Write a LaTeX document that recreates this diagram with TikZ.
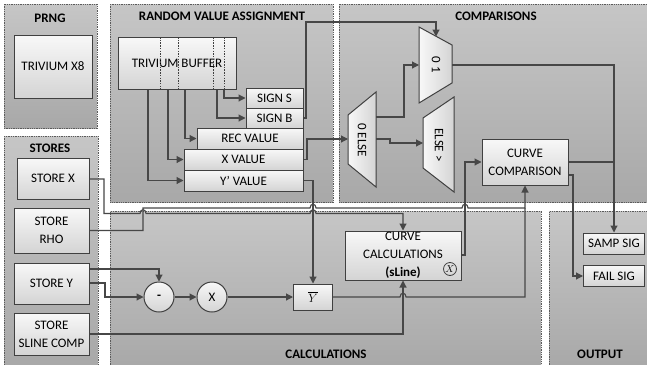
\documentclass[tikz,border=0pt]{standalone}
\usepackage{fontspec}
\setmainfont{Carlito}
\usetikzlibrary{arrows.meta}
\definecolor{wirec}{HTML}{474747}
\definecolor{boxline}{HTML}{404040}
\definecolor{panelTop}{HTML}{C6C6C6}
\definecolor{panelBot}{HTML}{A8A8A8}
\definecolor{panelLine}{HTML}{5A5A5A}
\definecolor{boxTop}{HTML}{F8F8F8}
\definecolor{boxBot}{HTML}{D4D4D4}
\begin{document}
\begin{tikzpicture}[x=1pt,y=-1pt,
 panel/.style={draw=panelLine, dash pattern=on 1.3pt off 1pt, line width=0.9pt, top color=panelTop, bottom color=panelBot},
 box/.style={draw=boxline, line width=1pt, top color=boxTop, bottom color=boxBot, inner sep=0pt, font=\fontsize{13}{18}\selectfont, align=center},
 circ/.style={box, circle},
 wire/.style={draw=wirec, line width=1.1pt},
 arr/.style={wire, -{Triangle[length=7pt,width=7pt]}},
 ttl/.style={font=\fontsize{13}{15}\selectfont\bfseries},
 mux/.style={draw=boxline, line width=1pt, left color=boxTop, right color=boxBot},
 lbl/.style={font=\fontsize{13}{15}\selectfont, rotate=-90},
 dotl/.style={draw=boxline, line width=0.8pt, dash pattern=on 1.5pt off 1.2pt}
]
\useasboundingbox (0,0) rectangle (647,364);
\fill[white] (0,0) rectangle (647,364);

% panels
\path[panel] (4,4) rectangle (97,128);
\path[panel] (4,136) rectangle (98,368);
\path[panel] (110,4) rectangle (333,202.5);
\path[panel] (339,4) rectangle (651,202.5);
\path[panel] (110,211.5) rectangle (541,368);
\path[panel] (549,211.5) rectangle (651,368);

% titles
\node[ttl] (tPRNG) at (50,18) {PRNG};
\node[ttl] (tSTORES) at (50,148) {STORES};
\node[ttl] (tRVA) at (222,16) {RANDOM VALUE ASSIGNMENT};
\node[ttl] (tCOMP) at (496,16) {COMPARISONS};
\node[ttl] (tCALC) at (326,354) {CALCULATIONS};
\node[ttl] (tOUT) at (600,354) {OUTPUT};

% PRNG
\node[box, minimum width=78pt, minimum height=63pt] (trivX8) at (53,66.5) {TRIVIUM X8};

% RVA
\node[box, minimum width=118pt, minimum height=52pt] (buffer) at (177,63) {TRIVIUM BUFFER};
\draw[dotl] (160,37) -- (160,89);
\draw[dotl] (178,37) -- (178,89);
\draw[dotl] (213,37) -- (213,89);
\draw[dotl] (224,37) -- (224,89);
\node[box, minimum width=57pt, minimum height=20pt] (signS) at (274.5,98) {SIGN S};
\node[box, minimum width=57pt, minimum height=20pt] (signB) at (274.5,118) {SIGN B};
\node[box, minimum width=106pt, minimum height=21pt] (recV) at (250,138.5) {REC VALUE};
\node[box, minimum width=119pt, minimum height=21pt] (xV) at (243.5,159.5) {X VALUE};
\node[box, minimum width=119pt, minimum height=21pt] (yV) at (243.5,180.5) {Y’ VALUE};

\draw[arr] (148,0 |- buffer.south) -- (148,180.5) -- (yV.west);
\draw[arr] (168,0 |- buffer.south) -- (168,159.5) -- (xV.west);
\draw[arr] (185,0 |- buffer.south) -- (185,138.5) -- (recV.west);
\draw[arr] (217,0 |- buffer.south) -- (217,118) -- (signB.west);
\draw[arr] (224,0 |- buffer.south) -- (224,98) -- (signS.west);

% STORES
\node[box, minimum width=72pt, minimum height=41pt] (storeX) at (53,178.5) {STORE X};
\node[box, minimum width=75pt, minimum height=45pt] (storeRho) at (51.5,230.5) {STORE\\RHO};
\node[box, minimum width=75pt, minimum height=41pt] (storeY) at (51.5,283.5) {STORE Y};
\node[box, minimum width=75pt, minimum height=42pt] (storeS) at (51.5,334) {STORE\\SLINE COMP};

% COMPARISONS muxes
\path[mux] (419,27) -- (452,45) -- (452,83) -- (419,103) -- cycle;
\node[lbl] (m01) at (436,65) {0 1};
\path[mux] (348,115) -- (376,92) -- (376,187) -- (348,164) -- cycle;
\node[lbl] (m0else) at (362,140) {0 ELSE};
\path[mux] (423,118) -- (454,97) -- (454,192) -- (423,168) -- cycle;
\node[lbl] (mElse) at (439,145) {ELSE >};
\coordinate (m01in) at (436,36.5);
\coordinate (m01l) at (419,65);
\coordinate (m01out) at (452,65);
\coordinate (m0in) at (348,139);
\coordinate (m0o1) at (376,117);
\coordinate (m0o2) at (376,139);
\coordinate (mEl) at (423,143);

\node[box, minimum width=86pt, minimum height=46pt] (curveComp) at (525,162) {CURVE\\COMPARISON};

% OUTPUT
\node[box, minimum width=61pt, minimum height=21pt] (sampSig) at (614,243.5) {SAMP SIG};
\node[box, minimum width=61pt, minimum height=21pt] (failSig) at (614,276) {FAIL SIG};

% CALCULATIONS
\node[box, minimum width=116pt, minimum height=49pt] (curveCalc) at (403,255.5) {CURVE\\CALCULATIONS\\\textbf{(sLine)}};
\node[draw=boxline, circle, line width=0.8pt, inner sep=0pt, minimum size=13pt, font=\fontsize{10}{10}\selectfont] (cx) at (450,269) {$X$};
\node[circ, minimum size=30pt] (minus) at (159,297) {\textbf{-}};
\node[circ, minimum size=30pt] (times) at (212,297) {X};
\node[box, minimum width=39pt, minimum height=26pt] (ybar) at (313,297) {$\overline{Y}$};

% connectors
\draw[arr] (signB.east) -- (306,118) -- (306,22) -- (436,22) -- (m01in);
\draw[arr] (xV.east) -- (307,159.5) -- (307,139) -- (m0in);
\draw[arr] (m0o1) -- (404,117) -- (404,65) -- (m01l);
\draw[arr] (m0o2) -- (390,139) -- (390,143) -- (mEl);
\draw[wire] (m01out) -- (614,65) -- (614,162);
\draw[arr] (614,162) -- (sampSig.north);
\draw[wire] (curveComp.east) -- (614,162);
\draw[arr] (curveComp.east |- 0,175) -- (573,175) -- (573,276) -- (failSig.west);

\draw[arr] (storeX.east |- 0,179) -- (104,179) -- (104,213.5) -- (140,213.5)
  .. controls (140,208.5) and (146,208.5) .. (146,213.5) -- (310,213.5)
  .. controls (310,208.5) and (316,208.5) .. (316,213.5) -- (403,213.5) -- (curveCalc.north);
\draw[arr] (storeRho.east) -- (143,230.5) -- (143,208) -- (310,208)
  .. controls (310,203) and (316,203) .. (316,208) -- (462,208)
  .. controls (462,203) and (468,203) .. (468,208) -- (525,208) -- (curveComp.south);
\draw[wire] (ybar.east) -- (400,297)
  .. controls (400,292) and (406,292) .. (406,297) -- (525,297) -- (525,208);
\draw[arr] (storeS.east) -- (403,334) -- (curveCalc.south);
\draw[arr] (storeY.east |- 0,269) -- (159,269) -- (minus.north);
\draw[arr] (storeY.east |- 0,283) -- (105,283) -- (105,297) -- (minus.west);
\draw[arr] (minus.east) -- (times.west);
\draw[arr] (times.east) -- (ybar.west);
\draw[arr] (yV.east) -- (313,180.5) -- (ybar.north);
\draw[arr] (curveCalc.east |- 0,255) -- (465,255) -- (465,162) -- (curveComp.west);
\end{tikzpicture}
\end{document}
